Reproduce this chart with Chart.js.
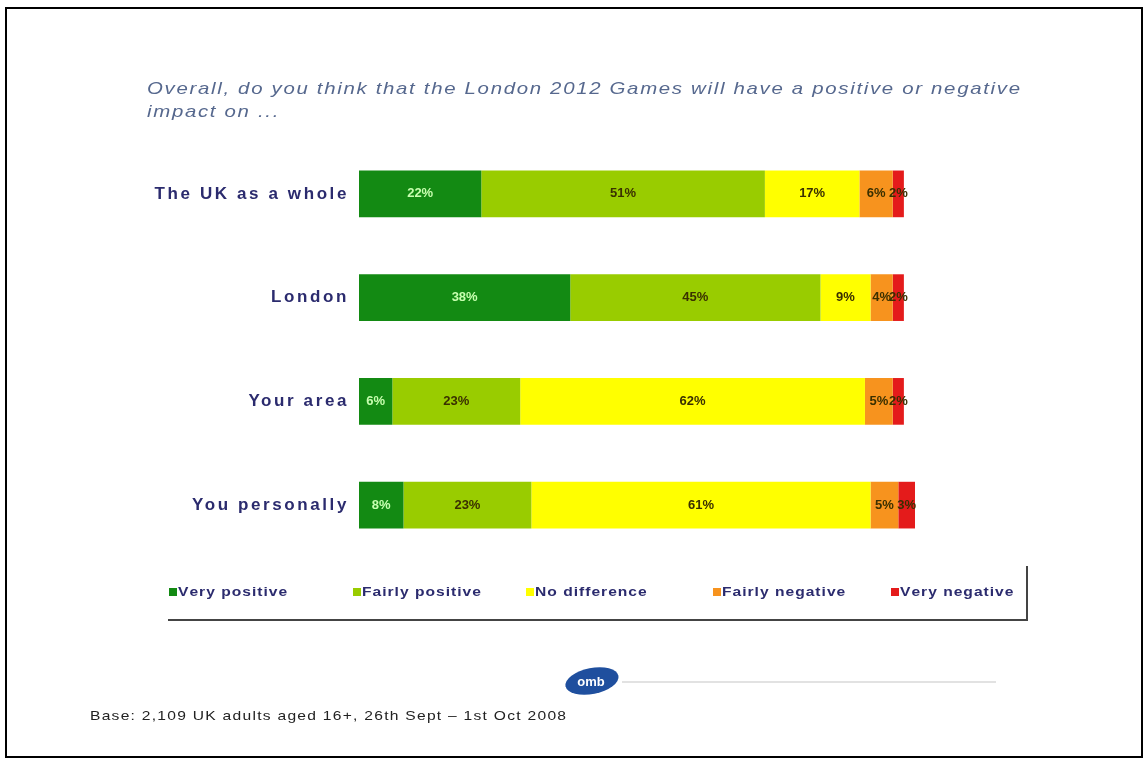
<!DOCTYPE html>
<html>
<head>
<meta charset="utf-8">
<script src="https://cdn.jsdelivr.net/npm/chart.js@4/dist/chart.umd.min.js"></script>
<style>
  html, body { margin: 0; padding: 0; background: #ffffff; }
  #wrap { position: relative; width: 1148px; height: 763px; overflow: hidden; }
  #frame { position: absolute; left: 5px; top: 7px; width: 1134px; height: 747px; border: 2px solid #000; pointer-events: none; }
  canvas { position: absolute; left: 0; top: 0; }
</style>
</head>
<body>
<div id="wrap">
  <canvas id="c" width="1148" height="763"></canvas>
  <div id="frame"></div>
</div>
<script>
const categories = ["The UK as a whole", "London", "Your area", "You personally"];
const seriesNames = ["Very positive", "Fairly positive", "No difference", "Fairly negative", "Very negative"];
const veryPositive   = [22, 38, 6, 8];
const fairlyPositive = [51, 45, 23, 23];
const noDifference   = [17, 9, 62, 61];
const fairlyNegative = [6, 4, 5, 5];
const veryNegative   = [2, 2, 2, 3];
const titleLines = ["Overall, do you think that the London 2012 Games will have a positive or negative", "impact on ..."];
const footerText = "Base: 2,109 UK adults aged 16+, 26th Sept \u2013 1st Oct 2008";

const colors = ["#138a13", "#99cc00", "#ffff00", "#f7931e", "#e41b1b"];
const seriesValues = [veryPositive, fairlyPositive, noDifference, fairlyNegative, veryNegative];

const datasets = seriesNames.map((name, i) => ({
  label: name,
  data: seriesValues[i],
  backgroundColor: colors[i],
  borderWidth: 0,
  barPercentage: 0.45,
  categoryPercentage: 1.0
}));

const NAVY = "#2b2b6e";
const FONT = "'Liberation Sans', Arial, sans-serif";

function resetSpacing(ctx) { if ('letterSpacing' in ctx) ctx.letterSpacing = "0px"; }
function charWidths(ctx, text) { return Array.from(text).map(ch => ctx.measureText(ch).width); }
// draw text with horizontal stretch k, spaced so that it spans `target` px (or uses given spacing)
function wideText(ctx, text, x, y, k, target, spacing) {
  const chars = Array.from(text);
  const ws = charWidths(ctx, text);
  const total = ws.reduce((a, b) => a + b, 0) * k;
  const s = spacing !== undefined ? spacing : (target - total) / Math.max(1, chars.length - 1);
  ctx.save();
  ctx.translate(x, y);
  ctx.scale(k, 1);
  let cx = 0;
  chars.forEach((ch, i) => { ctx.fillText(ch, cx, 0); cx += ws[i] + s / k; });
  ctx.restore();
  return s;
}

const legendStarts = [178, 362, 535, 722, 900];

const decor = {
  id: "decor",
  beforeDraw(chart) {
    if ('letterSpacing' in chart.ctx) chart.ctx.letterSpacing = "2.6px";
  },
  beforeDatasetsDraw(chart) {
    resetSpacing(chart.ctx);
  },
  afterDatasetsDraw(chart) {
    const ctx = chart.ctx;
    ctx.save();
    resetSpacing(ctx);
    ctx.font = "bold 13px " + FONT;
    ctx.textAlign = "center";
    ctx.textBaseline = "middle";
    chart.data.datasets.forEach((ds, di) => {
      const meta = chart.getDatasetMeta(di);
      meta.data.forEach((el, j) => {
        const cx = (el.x + el.base) / 2;
        ctx.fillStyle = di === 0 ? "#c8ffb0" : "#3a3000";
        ctx.fillText(ds.data[j] + "%", cx, el.y);
      });
    });
    ctx.restore();
  },
  afterDraw(chart) {
    const ctx = chart.ctx;
    ctx.save();
    resetSpacing(ctx);
    ctx.textAlign = "left";
    ctx.textBaseline = "middle";
    // title
    ctx.font = "italic 17px " + FONT;
    ctx.fillStyle = "#56688e";
    const s = wideText(ctx, titleLines[0], 147, 89, 1.2, 873);
    wideText(ctx, titleLines[1], 147, 112, 1.2, 0, s);

    // legend
    ctx.font = "bold 13px " + FONT;
    chart.data.datasets.forEach((ds, i) => {
      const x0 = legendStarts[i];
      ctx.fillStyle = ds.backgroundColor;
      ctx.fillRect(x0 - 9, 588, 8, 8);
      ctx.fillStyle = NAVY;
      wideText(ctx, ds.label, x0, 592, 1.2, 0, 1.0);
    });
    ctx.strokeStyle = "#444";
    ctx.lineWidth = 2;
    ctx.beginPath();
    ctx.moveTo(168, 620);
    ctx.lineTo(1028, 620);
    ctx.moveTo(1027, 566);
    ctx.lineTo(1027, 621);
    ctx.stroke();

    // logo line + logo
    ctx.strokeStyle = "#e2e2e2";
    ctx.lineWidth = 2;
    ctx.beginPath();
    ctx.moveTo(622, 682);
    ctx.lineTo(996, 682);
    ctx.stroke();
    ctx.fillStyle = "#1f4f9e";
    ctx.beginPath();
    ctx.ellipse(592, 681, 27, 13, -0.2, 0, Math.PI * 2);
    ctx.fill();
    ctx.fillStyle = "#ffffff";
    ctx.font = "bold 13px " + FONT;
    ctx.textAlign = "center";
    ctx.fillText("omb", 591, 682);

    // footer
    ctx.textAlign = "left";
    ctx.fillStyle = "#222";
    ctx.font = "13px " + FONT;
    wideText(ctx, footerText, 90, 716, 1.2, 476);
    ctx.restore();
  }
};

new Chart(document.getElementById("c"), {
  type: "bar",
  data: { labels: categories, datasets },
  options: {
    indexAxis: "y",
    responsive: false,
    animation: false,
    layout: { padding: { left: 0, top: 142, right: 233, bottom: 206 } },
    plugins: { legend: { display: false }, tooltip: { enabled: false }, title: { display: false } },
    scales: {
      x: { stacked: true, min: 0, max: 100, display: false },
      y: {
        stacked: true,
        grid: { display: false, drawTicks: false },
        border: { display: false },
        ticks: {
          color: NAVY,
          padding: 10,
          font: { family: FONT, size: 17, weight: "bold" }
        },
        afterFit(scale) { scale.width = 359; }
      }
    }
  },
  plugins: [decor]
});
</script>
</body>
</html>
